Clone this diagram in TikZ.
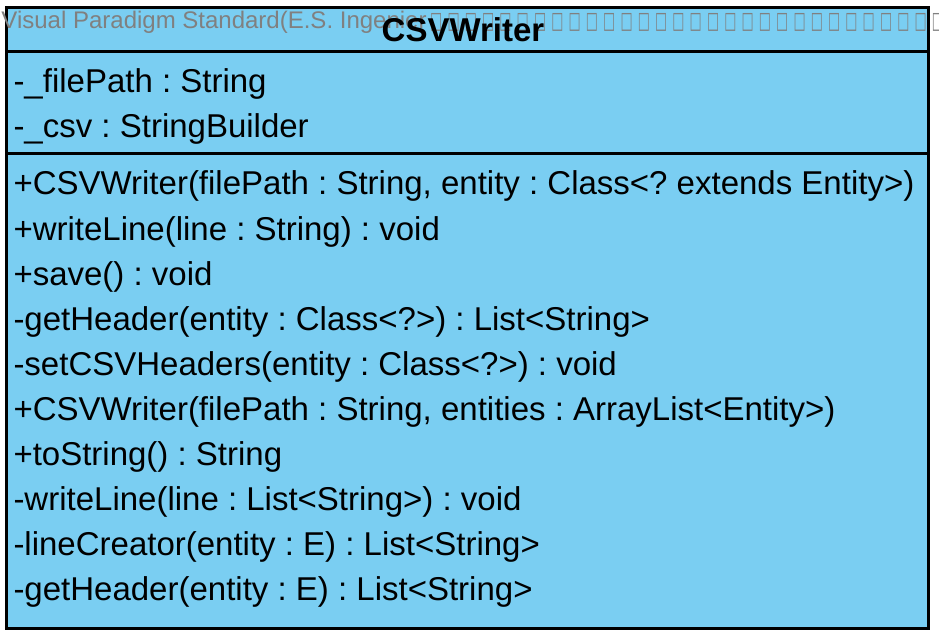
\documentclass[tikz,border=0pt]{standalone}
\usepackage{graphicx}
\usepackage{fontspec}
\setmainfont{Liberation Sans}
\newfontfamily\boxfont{DejaVu Sans}
\usetikzlibrary{positioning}
\definecolor{classblue}{RGB}{122,206,242}
\definecolor{markgray}{RGB}{128,128,128}
\newcommand{\tofu}{\makebox[17.3pt][c]{\scalebox{0.64}[1.17]{\boxfont\fontsize{20}{20}\selectfont □}}}

\begin{document}
\frenchspacing
\begin{tikzpicture}[x=1pt, y=-1pt, line width=3pt,
	classbox/.style={rectangle, draw, fill=classblue, inner sep=0pt, minimum width=922pt, minimum height=620pt, anchor=north west},
	member/.style={anchor=base west, inner sep=0pt, font=\fontsize{33}{33}\selectfont},
	title/.style={anchor=base, inner sep=0pt, font=\fontsize{33}{33}\selectfont\bfseries},
	watermark/.style={anchor=base west, inner sep=0pt, text=markgray, font=\fontsize{24}{24}\selectfont}]

		\useasboundingbox (0,0) rectangle (939,639);

		\node[classbox] (cls) at (5,6.5) {};
		\coordinate (head) at (0,51.5);
		\coordinate (attr) at (0,153.5);
		\draw (cls.west |- head) -- (cls.east |- head);
		\draw (cls.west |- attr) -- (cls.east |- attr);

		\node[watermark] (mark) at (0,29) {Visual Paradigm Standard(E.S. Ingenier\kern1pt\foreach \i in {1,...,30}{\tofu}};
		\node[title] (name) at (463,42) {CSVWriter};

		% attributes
		\node[member] (a1) at (12,93) {-\_filePath : String};
		\node[member] (a2) at (12,138) {-\_csv : StringBuilder};

		% operations
		\node[member] (o1) at (12,195) {+CSVWriter(filePath : String, entity : Class<? extends Entity>)};
		\node[member] (o2) at (12,240) {+writeLine(line : String) : void};
		\node[member] (o3) at (12,285) {+save() : void};
		\node[member] (o4) at (12,330) {-getHeader(entity : Class<?>) : List<String>};
		\node[member] (o5) at (12,375) {-setCSVHeaders(entity : Class<?>) : void};
		\node[member] (o6) at (12,420) {+CSVWriter(filePath : String, entities : ArrayList<Entity>)};
		\node[member] (o7) at (12,465) {+toString() : String};
		\node[member] (o8) at (12,510) {-writeLine(line : List<String>) : void};
		\node[member] (o9) at (12,555) {-lineCreator(entity : E) : List<String>};
		\node[member] (o10) at (12,600) {-getHeader(entity : E) : List<String>};

\end{tikzpicture}
\end{document}
